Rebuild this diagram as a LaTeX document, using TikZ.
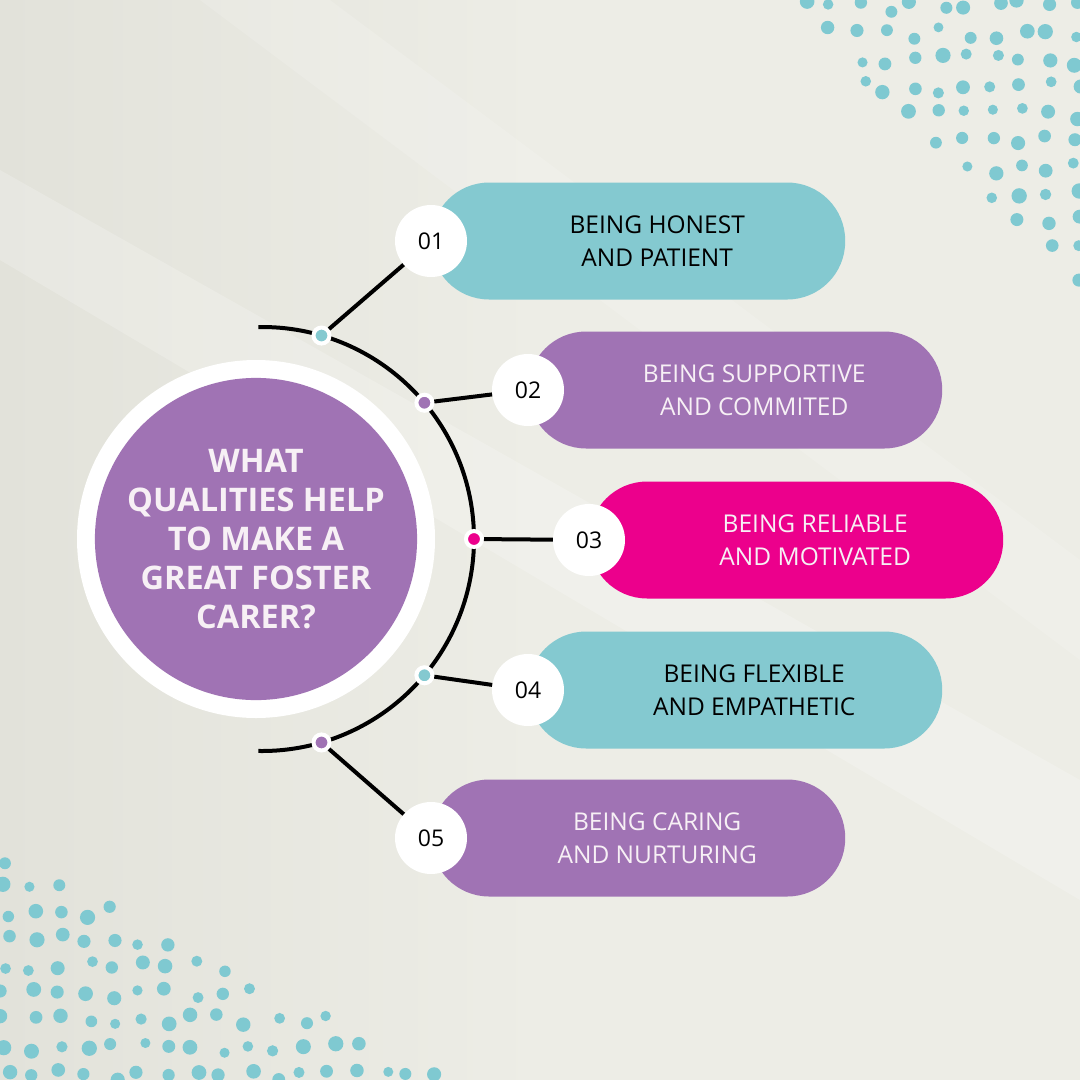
\documentclass[tikz,border=0pt]{standalone}
\usepackage{fontspec}
\setmainfont{Open Sans}
\usetikzlibrary{positioning}
\definecolor{bgc}{HTML}{EDEDE6}
\definecolor{bgdark}{HTML}{E2E2DA}
\definecolor{tealc}{HTML}{84C9D0}
\definecolor{purpc}{HTML}{A073B4}
\definecolor{magc}{HTML}{EC008C}
\definecolor{dotc}{HTML}{7FC9D1}
\definecolor{paleink}{HTML}{F7F0F5}

\begin{document}
\begin{tikzpicture}[x=1pt,y=-1pt,
  pill/.style={minimum width=414pt,minimum height=117pt,rounded corners=58pt,anchor=west,inner sep=0pt},
  num/.style={circle,fill=white,minimum size=72pt,inner sep=0pt,font=\fontsize{23}{26}\selectfont},
  knot/.style={circle,draw=white,line width=4pt,inner sep=0pt,minimum size=16pt},
  caption/.style={align=center,font=\fontsize{24.5}{33}\selectfont},
  wire/.style={line width=4pt}]

% background
\useasboundingbox (0,0) rectangle (1080,1080);
\shade[left color=bgdark,right color=bgc] (0,0) rectangle (540,1080);
\fill[bgc] (540,0) rectangle (1080,1080);
\fill[white,opacity=0.2] (0,170) -- (0,260) -- (1080,900) -- (1080,780) -- cycle;
\fill[white,opacity=0.15] (200,0) -- (330,0) -- (1080,560) -- (1080,660) -- cycle;

% dots, top right
\pgfmathsetseed{42}
\foreach \i in {0,...,12}{
  \foreach \j in {0,...,11}{
    \pgfmathsetmacro\px{1076-27*\i+6*rand}
    \pgfmathsetmacro\py{6+27*\j+6*rand}
    \pgfmathsetmacro\pr{6.3+1.4*rand}
    \pgfmathtruncatemacro\keep{\py<\px-782 ? 1 : 0}
    \ifnum\keep=1 \fill[dotc] (\px,\py) circle[radius=\pr pt];\fi
  }}
% dots, bottom left
\foreach \i in {0,...,16}{
  \foreach \j in {0,...,9}{
    \pgfmathsetmacro\px{6+27*\i+6*rand}
    \pgfmathsetmacro\py{1074-27*\j+6*rand}
    \pgfmathsetmacro\pr{6.3+1.4*rand}
    \pgfmathtruncatemacro\keep{\py>850+0.5*\px ? 1 : 0}
    \ifnum\keep=1 \fill[dotc] (\px,\py) circle[radius=\pr pt];\fi
  }}

% hub
\node[circle,fill=white,minimum size=358pt] (hub) at (256,539) {};
\node[circle,fill=purpc,minimum size=322pt,align=center,text=paleink,
      font=\bfseries\fontsize{32.5}{39}\selectfont] (title) at (hub)
  {WHAT\\QUALITIES HELP\\TO MAKE A\\GREAT FOSTER\\CARER?};

% arc with knots
\coordinate (arcc) at (262,539);
\draw[wire] (arcc) ++(91:212pt) arc[start angle=91,end angle=-91,radius=212pt];
\path (arcc) ++(73.7:212pt) node[knot,fill=tealc] (d1) {};
\path (arcc) ++(40:212pt) node[knot,fill=purpc] (d2) {};
\path (arcc) ++(0:212pt) node[knot,fill=magc] (d3) {};
\path (arcc) ++(-40:212pt) node[knot,fill=tealc] (d4) {};
\path (arcc) ++(-73.7:212pt) node[knot,fill=purpc] (d5) {};

% pills
\node[pill,fill=tealc] (p1) at (431,241) {};
\node[pill,fill=purpc] (p2) at (528,390) {};
\node[pill,fill=magc] (p3) at (589,540) {};
\node[pill,fill=tealc] (p4) at (528,690) {};
\node[pill,fill=purpc] (p5) at (431,838) {};

\node[caption] (t1) at ([xshift=19pt]p1.center) {BEING HONEST\\AND PATIENT};
\node[caption,text=paleink] (t2) at ([xshift=19pt]p2.center) {BEING SUPPORTIVE\\AND COMMITED};
\node[caption,text=paleink] (t3) at ([xshift=19pt]p3.center) {BEING RELIABLE\\AND MOTIVATED};
\node[caption] (t4) at ([xshift=19pt]p4.center) {BEING FLEXIBLE\\AND EMPATHETIC};
\node[caption,text=paleink] (t5) at ([xshift=19pt]p5.center) {BEING CARING\\AND NURTURING};

\node[num] (n1) at (p1.west) {01};
\node[num] (n2) at (p2.west) {02};
\node[num] (n3) at (p3.west) {03};
\node[num] (n4) at (p4.west) {04};
\node[num] (n5) at (p5.west) {05};

\draw[wire] (d1) -- (n1);
\draw[wire] (d2) -- (n2);
\draw[wire] (d3) -- (n3);
\draw[wire] (d4) -- (n4);
\draw[wire] (d5) -- (n5);
\end{tikzpicture}
\end{document}
